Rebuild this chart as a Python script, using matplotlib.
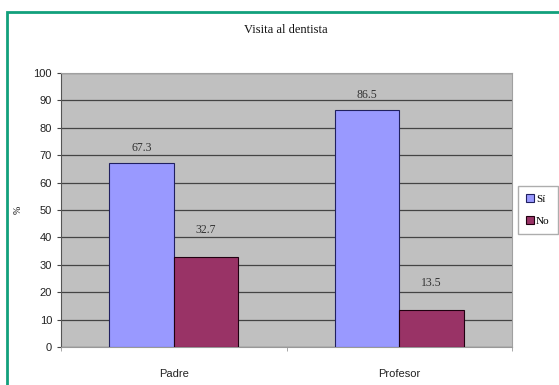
import numpy as np
import matplotlib.pyplot as plt
from matplotlib.patches import Rectangle

# Data
categories = ['Padre', 'Profesor']
si_values = [67.3, 86.5]
no_values = [32.7, 13.5]
series_names = ['Sí', 'No']

fig = plt.figure(figsize=(5.59, 3.85), dpi=100)
ax = fig.add_axes([61/559, 1 - 347/385, 451/559, 274/385])

x = np.arange(len(categories))
w = 0.286
b1 = ax.bar(x - w/2, si_values, w, color='#9999FF', edgecolor='#202060', linewidth=0.8, label=series_names[0], zorder=3)
b2 = ax.bar(x + w/2, no_values, w, color='#993366', edgecolor='#200010', linewidth=0.8, label=series_names[1], zorder=3)

# Excel placed the labels a bit unevenly above the bars
for bars, vals, off in [(b1, si_values, 5.5), (b2, no_values, 10)]:
    for r, v in zip(bars, vals):
        ax.text(r.get_x() + r.get_width()/2, v + off, f'{v:.1f}', ha='center', va='center',
                fontsize=8.5, family='Liberation Serif', color='#333333')

ax.set_facecolor('#C0C0C0')
ax.set_xlim(-0.5, 1.5)
ax.set_ylim(0, 100)
ax.set_yticks(range(0, 101, 10))
ax.yaxis.grid(True, color='#444444', linewidth=0.9, zorder=0)
ax.set_xticks(x)
ax.set_xticklabels(categories, fontsize=8, family='Liberation Sans', color='#222222')
ax.tick_params(axis='x', length=0, pad=16)
ax.set_xticks([-0.5, 0.5, 1.5], minor=True)
ax.tick_params(axis='x', which='minor', length=3, color='#999999')
ax.tick_params(axis='y', length=3, labelsize=8, color='#444444', labelcolor='#222222')
for lab in ax.get_yticklabels():
    lab.set_family('Liberation Sans')
for s in ['top', 'right']:
    ax.spines[s].set_color('#A0A0A0')
ax.spines['left'].set_color('#555555')
ax.spines['bottom'].set_color('#999999')

ax.set_ylabel('%', fontsize=7, family='Liberation Serif', labelpad=8)

fig.text(286/559, 1 - 30/385, 'Visita al dentista', ha='center', va='center',
         fontsize=9, family='Liberation Serif', color='#111111')

leg = fig.legend(loc='center', bbox_to_anchor=(538/559, 1 - 210/385), prop={'family': 'Liberation Serif', 'size': 8},
                 frameon=True, fancybox=False, edgecolor='#999999', handlelength=0.7, handleheight=0.7,
                 handletextpad=0.2, borderpad=0.7, labelspacing=1.1, borderaxespad=0)

fig.patches.append(Rectangle((7/559, -0.1), 1.2, 1 - 12/385 + 0.1, transform=fig.transFigure,
                             fill=False, edgecolor='#12A07C', linewidth=2))

fig.savefig('out.png', dpi=100)
